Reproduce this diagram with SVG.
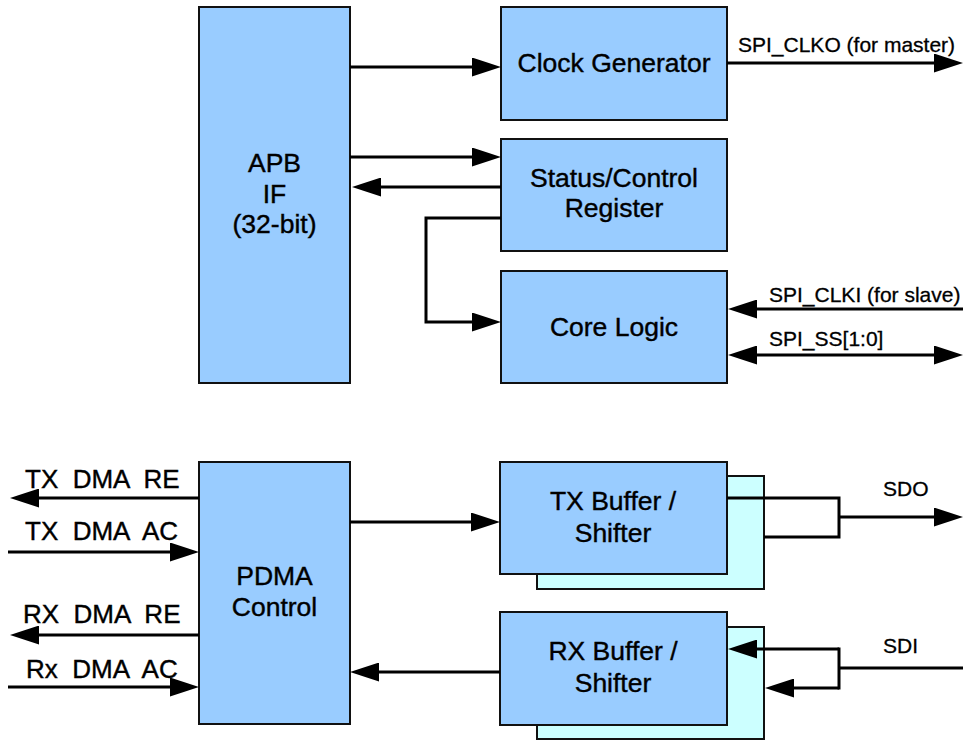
<svg xmlns="http://www.w3.org/2000/svg" width="963" height="743" viewBox="0 0 963 743">
<style>
.box{fill:#99CCFF;stroke:#111;stroke-width:2}
.shadow{fill:#CCFFFF;stroke:#111;stroke-width:2}
.t{font-family:"Liberation Sans",Arial,sans-serif;font-size:26.5px;fill:#000;stroke:#000;stroke-width:0.4;text-anchor:middle}
.s{font-family:"Liberation Sans",Arial,sans-serif;font-size:21px;fill:#000;stroke:#000;stroke-width:0.3}
.d{font-family:"Liberation Sans",Arial,sans-serif;font-size:26px;fill:#000;stroke:#000;stroke-width:0.4;white-space:pre}
.w{fill:none;stroke:#000;stroke-width:3}
.a{fill:none;stroke:#000;stroke-width:3;marker-end:url(#ah)}
.b{fill:none;stroke:#000;stroke-width:3;marker-start:url(#ah);marker-end:url(#ah)}
</style>
<defs>
<marker id="ah" markerUnits="userSpaceOnUse" viewBox="0 0 29 19" refX="19" refY="9.5" markerWidth="29" markerHeight="19" orient="auto-start-reverse">
<path d="M0,0 L29,9.5 L0,19 Z" fill="#000"/>
</marker>
</defs>
<rect width="963" height="743" fill="#fff"/>
<g id="apb"><rect class="box" x="199" y="7" width="151" height="376"/><text class="t" x="274.5" y="172">APB</text><text class="t" x="274.5" y="203">IF</text><text class="t" x="274.5" y="233">(32-bit)</text></g>
<g id="clock"><rect class="box" x="501" y="7" width="226" height="113"/><text class="t" x="614" y="72">Clock Generator</text></g>
<g id="status"><rect class="box" x="501" y="139" width="226" height="112"/><text class="t" x="614" y="187">Status/Control</text><text class="t" x="614" y="217">Register</text></g>
<g id="core"><rect class="box" x="501" y="271" width="226" height="112"/><text class="t" x="614" y="336">Core Logic</text></g>
<g id="pdma"><rect class="box" x="199" y="462" width="151" height="262"/><text class="t" x="274.5" y="585">PDMA</text><text class="t" x="274.5" y="616">Control</text></g>
<g id="txbuf"><rect class="shadow" x="537" y="476" width="227" height="113"/><rect class="box" x="500" y="462" width="227" height="112"/><text class="t" x="613" y="510">TX Buffer /</text><text class="t" x="613" y="542">Shifter</text></g>
<g id="rxbuf"><rect class="shadow" x="537" y="627" width="227" height="112"/><rect class="box" x="500" y="612" width="227" height="113"/><text class="t" x="613" y="660">RX Buffer /</text><text class="t" x="613" y="692">Shifter</text></g>
<g id="connectors">
<line class="a" x1="350" y1="67" x2="491" y2="67"/>
<line class="a" x1="350" y1="157" x2="491" y2="157"/>
<line class="a" x1="501" y1="187" x2="362" y2="187"/>
<polyline class="a" points="501,218 426,218 426,322 491,322"/>
<line class="a" x1="727" y1="63" x2="953" y2="63"/>
<line class="a" x1="963" y1="309" x2="738" y2="309"/>
<line class="b" x1="738" y1="355" x2="953" y2="355"/>
<line class="a" x1="199" y1="498" x2="20" y2="498"/>
<line class="a" x1="8" y1="552" x2="189" y2="552"/>
<line class="a" x1="199" y1="635" x2="20" y2="635"/>
<line class="a" x1="8" y1="687" x2="189" y2="687"/>
<line class="a" x1="350" y1="522" x2="490" y2="522"/>
<line class="a" x1="500" y1="672" x2="360" y2="672"/>
<polyline class="w" points="727,498 839,498 839,537 764,537"/>
<line class="a" x1="839" y1="517" x2="953" y2="517"/>
<line class="w" x1="963" y1="668" x2="839" y2="668"/>
<line class="w" x1="839" y1="647.5" x2="839" y2="689.5"/>
<line class="a" x1="839" y1="649" x2="738" y2="649"/>
<line class="a" x1="839" y1="688" x2="775" y2="688"/>
</g>
<g id="labels">
<text class="s" x="738" y="52">SPI_CLKO (for master)</text>
<text class="s" x="769" y="302">SPI_CLKI (for slave)</text>
<text class="s" x="769" y="346">SPI_SS[1:0]</text>
<text class="s" x="883" y="496">SDO</text>
<text class="s" x="883" y="653">SDI</text>
<text class="d" x="25" y="488" xml:space="preserve">TX  DMA  RE</text>
<text class="d" x="25" y="540" xml:space="preserve">TX  DMA  AC</text>
<text class="d" x="23" y="623" xml:space="preserve">RX  DMA  RE</text>
<text class="d" x="26" y="678" xml:space="preserve">Rx  DMA  AC</text>
</g>
</svg>
